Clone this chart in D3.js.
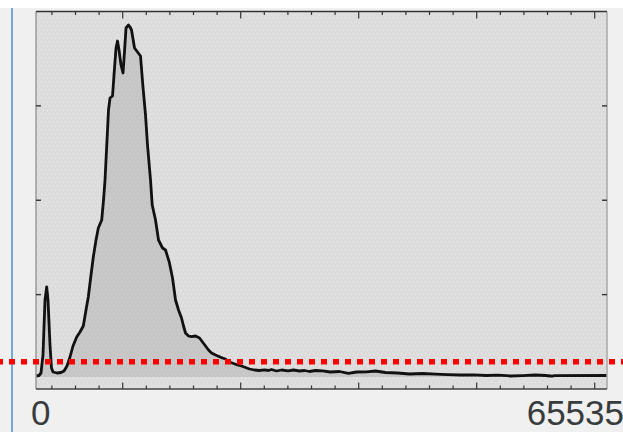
<!DOCTYPE html>
<html>
<head>
<meta charset="utf-8">
<title>Histogram</title>
<script src="https://cdn.jsdelivr.net/npm/d3@7"></script>
<style>
  html, body { margin: 0; padding: 0; background: #f0f0f0; }
  svg { display: block; }
</style>
</head>
<body>
<script>
// channel values (0..65535) and counts
var channels = [0, 344, 574, 803, 1033, 1228, 1377, 1607, 1779, 1951, 2411, 2870, 3214, 3558, 3902, 4247,
  4671, 5050, 5429, 5739, 6003, 6313, 6578, 6888, 7153, 7543, 7750, 7922, 8151, 8323, 8495, 8782, 8954,
  9184, 9356, 9528, 9757, 9987, 10171, 10331, 10618, 10791, 10963, 11307, 11651, 11995, 12259, 12569,
  12798, 13143, 13338, 13717, 14061, 14520, 14865, 15290, 15669, 16013, 16357, 16702, 16931, 17160, 17505,
  17849, 18308, 18767, 19111, 19455, 19800, 20144, 20603, 21062, 21406, 21750, 22210, 22669, 23128, 23587,
  24046, 24505, 25079, 25653, 26227, 26685, 27030, 27603, 28177, 28945, 29554, 30242, 30816, 31389, 32078,
  32881, 33799, 34832, 35865, 36783, 37931, 38963, 40111, 41488, 42865, 44357, 45848, 47225, 48717, 50208,
  51700, 53077, 54454, 55830, 57321, 58469, 59044, 59273, 59503, 65535];
var counts = [10, 15, 40, 220, 770, 900, 770, 320, 90, 50, 40, 45, 60, 110, 200, 310,
  400, 450, 510, 670, 800, 1020, 1200, 1370, 1490, 1570, 1770, 1970, 2370, 2670, 2790, 2810, 3020,
  3290, 3360, 3270, 3120, 3040, 3270, 3490, 3520, 3500, 3470, 3290, 3250, 3210, 2920, 2620, 2320,
  1970, 1720, 1570, 1370, 1290, 1270, 1150, 990, 770, 670, 590, 510, 440, 410, 403, 410, 390, 350, 310,
  270, 240, 220, 203, 190, 180, 150, 135, 120, 110, 95, 80, 70, 65, 72, 65, 75, 60, 70, 62, 70, 60, 65,
  55, 65, 62, 50, 55, 37, 50, 52, 60, 45, 40, 30, 35, 28, 24, 20, 22, 15, 18, 10, 14, 20, 15, 10, 8,
  14, 15, 13, 5, 1, 9, 12, 32, 32];
var xLabels = ['0', '65535'];

var W = 623, H = 432;
var pLeft = 36, pRight = 607, pTop = 11.5, pBottom = 389, base = 377;

var svg = d3.select('body').append('svg').attr('width', W).attr('height', H);

var x = d3.scaleLinear().domain([0, 65535]).range([pLeft, pRight]);
var y = d3.scaleLinear().domain([0, 3650]).range([base, 12]);
// frame tick scales (the frame marks carry no labels)
var xt = d3.scaleLinear().domain([0, 24]).range([28.3, 594.7]);
var yt = d3.scaleLinear().domain([0, 4]).range([pBottom, pTop]);

var defs = svg.append('defs');
function dots(id, bg, dot) {
  var p = defs.append('pattern').attr('id', id).attr('patternUnits', 'userSpaceOnUse')
    .attr('width', 8).attr('height', 8);
  p.append('rect').attr('width', 8).attr('height', 8).attr('fill', bg);
  [[1, 1], [5, 2], [3, 5], [7, 6]].forEach(function(d) {
    p.append('rect').attr('x', d[0]).attr('y', d[1]).attr('width', 1.2).attr('height', 1.2)
      .attr('fill', dot);
  });
}
dots('bgdots', '#dcdcdc', '#eaeaea');
dots('filldots', '#c6c6c6', '#d0d0d0');

// page background
svg.append('rect').attr('width', W).attr('height', H).attr('fill', '#f0f0f0');
svg.append('rect').attr('width', W).attr('height', 8).attr('fill', '#ffffff');
svg.append('line').attr('x1', 12).attr('x2', 12).attr('y1', 8).attr('y2', H)
  .attr('stroke', '#4a90d9').attr('stroke-width', 1.5);

// plot area
svg.append('rect').attr('x', pLeft).attr('y', pTop).attr('width', pRight - pLeft).attr('height', pBottom - pTop)
  .attr('fill', 'url(#bgdots)');

var pts = channels.map(function(c, i) { return [c, counts[i]]; });

svg.append('path').datum(pts)
  .attr('fill', 'url(#filldots)')
  .attr('d', d3.area().x(function(d) { return x(d[0]); }).y0(base).y1(function(d) { return y(d[1]); }));

svg.append('path').datum(pts)
  .attr('fill', 'none')
  .attr('stroke', '#111')
  .attr('stroke-width', 2.8)
  .attr('stroke-linejoin', 'round')
  .attr('d', d3.line().x(function(d) { return x(d[0]); }).y(function(d) { return y(d[1]); }));

// frame
svg.append('line').attr('x1', pLeft).attr('x2', pLeft).attr('y1', pTop).attr('y2', pBottom)
  .attr('stroke', '#9a9a9a').attr('stroke-width', 1.5);
svg.append('line').attr('x1', pRight).attr('x2', pRight).attr('y1', pTop).attr('y2', pBottom)
  .attr('stroke', '#a8a8a8').attr('stroke-width', 1.5);
svg.append('line').attr('x1', pLeft).attr('x2', pRight).attr('y1', pTop).attr('y2', pTop)
  .attr('stroke', '#333').attr('stroke-width', 1.6);
svg.append('line').attr('x1', pLeft).attr('x2', pRight).attr('y1', pBottom).attr('y2', pBottom)
  .attr('stroke', '#444').attr('stroke-width', 1.6);

var xtick = d3.range(1, 25);
svg.selectAll('.ttick').data(xtick).enter().append('line')
  .attr('x1', function(d) { return xt(d); }).attr('x2', function(d) { return xt(d); })
  .attr('y1', pTop).attr('y2', function(d) { return pTop + (d % 5 === 4 ? 7 : 3.5); })
  .attr('stroke', '#333').attr('stroke-width', 1.2);
svg.selectAll('.btick').data(xtick).enter().append('line')
  .attr('x1', function(d) { return xt(d); }).attr('x2', function(d) { return xt(d); })
  .attr('y1', pBottom).attr('y2', function(d) { return pBottom - (d % 5 === 4 ? 6.5 : 3.5); })
  .attr('stroke', '#333').attr('stroke-width', 1.2);

[1, 2, 3].forEach(function(d) {
  svg.append('line').attr('x1', pLeft).attr('x2', pLeft + 5).attr('y1', yt(d)).attr('y2', yt(d))
    .attr('stroke', '#333').attr('stroke-width', 1.4);
  svg.append('line').attr('x1', pRight - 5).attr('x2', pRight).attr('y1', yt(d)).attr('y2', yt(d))
    .attr('stroke', '#333').attr('stroke-width', 1.4);
});

// red dotted threshold
svg.append('line').attr('x1', 0).attr('x2', W).attr('y1', 361.7).attr('y2', 361.7)
  .attr('stroke', '#ff0000').attr('stroke-width', 5.5)
  .attr('stroke-dasharray', '6,6').attr('stroke-dashoffset', 3);

// labels
svg.append('text').attr('x', 31).attr('y', 425).attr('fill', '#383c3c')
  .style('font-family', 'Liberation Sans, Arial, sans-serif').style('font-size', '35px')
  .text(xLabels[0]);
svg.append('text').attr('x', 624).attr('y', 425).attr('text-anchor', 'end').attr('fill', '#383c3c')
  .style('font-family', 'Liberation Sans, Arial, sans-serif').style('font-size', '35px')
  .text(xLabels[1]);
</script>
</body>
</html>
